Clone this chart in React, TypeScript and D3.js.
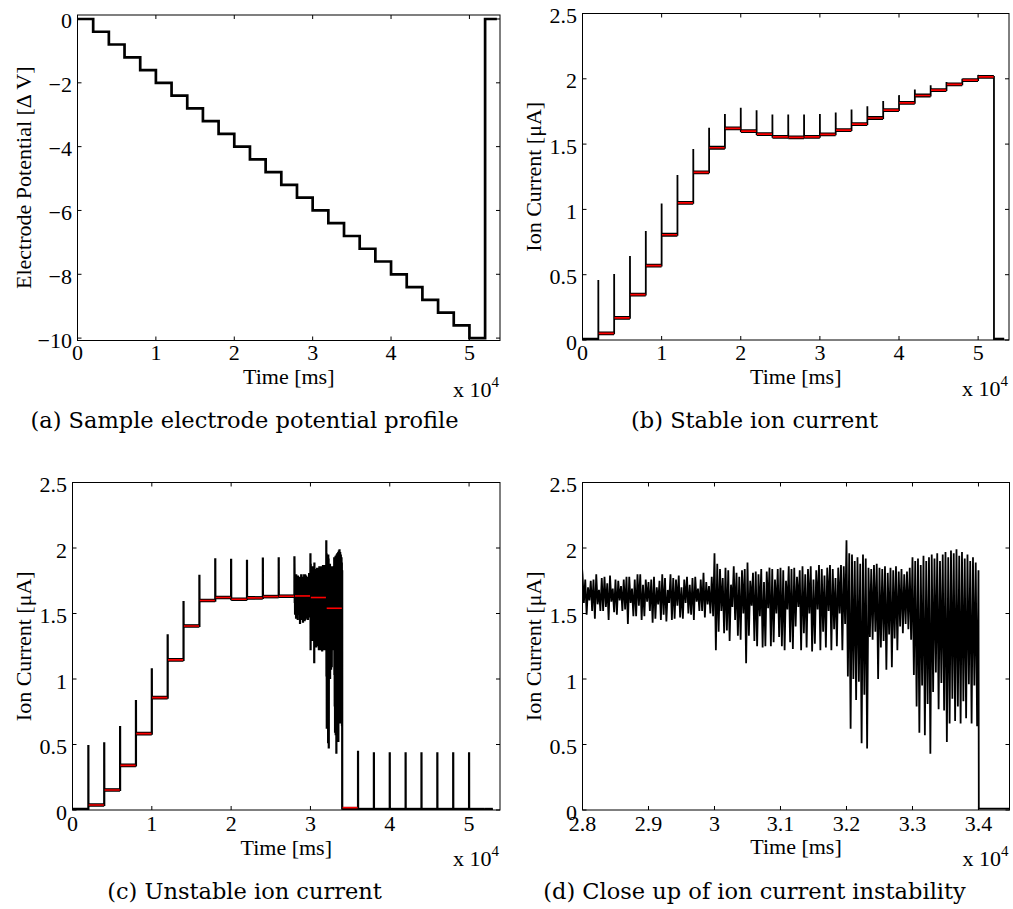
import React from "react";
import * as d3 from "d3";

// ---------- shared step schedule (ms) ----------
const STEP_TIMES = [0, 2000, 4000, 6000, 8000, 10000, 12000, 14000, 16000, 18000, 20000, 22000, 24000, 26000, 28000, 30000, 32000, 34000, 36000, 38000, 40000, 42000, 44000, 46000, 48000, 50000, 52000];

// ---------- (a) electrode potential ----------
const POTENTIAL_LEVELS = [0, -0.4, -0.8, -1.2, -1.6, -2.0, -2.4, -2.8, -3.2, -3.6, -4.0, -4.4, -4.8, -5.2, -5.6, -6.0, -6.4, -6.8, -7.2, -7.6, -8.0, -8.4, -8.8, -9.2, -9.6, -10.0, 0];
const POTENTIAL_END = 53500;

// ---------- (b) stable ion current ----------
const STABLE_LEVELS = [0.003, 0.05, 0.17, 0.347, 0.57, 0.806, 1.05, 1.283, 1.472, 1.62, 1.6, 1.577, 1.556, 1.551, 1.556, 1.574, 1.607, 1.653, 1.7, 1.76, 1.816, 1.872, 1.913, 1.957, 1.99, 2.015, 0.003];
const STABLE_SPIKES = [0, 0.46, 0.505, 0.643, 0.834, 1.046, 1.263, 1.462, 1.625, 1.73, 1.778, 1.76, 1.727, 1.727, 1.727, 1.73, 1.742, 1.765, 1.79, 1.83, 1.875, 1.918, 1.95, 1.975, 2.0, 2.03, 0];
const STABLE_END = 53300;

// ---------- (c) unstable ion current ----------
const UNSTABLE_LEVELS: (number | null)[] = [0.003, 0.038, 0.153, 0.341, 0.583, 0.858, 1.146, 1.405, 1.599, 1.622, 1.609, 1.619, 1.629, 1.632, null, null, null, 0.01, 0.003, 0.003, 0.003, 0.003, 0.003, 0.003, 0.003, 0.003, 0.003];
const UNSTABLE_MEANS: (number | null)[] = [null, 0.038, 0.153, 0.341, 0.583, 0.858, 1.146, 1.405, 1.599, 1.622, 1.609, 1.619, 1.629, 1.632, 1.634, 1.622, 1.54, 0.018, null, null, null, null, null, null, null, null, null];
const UNSTABLE_SPIKES = [0, 0.496, 0.517, 0.642, 0.84, 1.082, 1.342, 1.596, 1.795, 1.922, 1.917, 1.91, 1.927, 1.93, 1.937, 0, 0, 0, 0.453, 0.44, 0.44, 0.44, 0.44, 0.44, 0.44, 0.44, 0];
const UNSTABLE_END = 53000;

// oscillation (peak / trough per cycle) during the unstable steps 2.8–3.4 x10^4 ms
const OSC_HI_A = [1.80, 1.76, 1.70, 1.75, 1.76, 1.80, 1.68, 1.77, 1.78, 1.73, 1.79, 1.69, 1.76, 1.75, 1.71, 1.76, 1.78, 1.78, 1.69, 1.76, 1.80, 1.80, 1.72, 1.76, 1.74, 1.76, 1.78, 1.70, 1.75, 1.80, 1.77, 1.68, 1.80, 1.77, 1.76, 1.79, 1.70, 1.76, 1.78, 1.72, 1.77, 1.78, 1.69, 1.76, 1.81, 1.74, 1.71, 1.78];
const OSC_LO_A = [1.58, 1.49, 1.60, 1.52, 1.46, 1.57, 1.52, 1.52, 1.55, 1.45, 1.59, 1.51, 1.49, 1.60, 1.52, 1.53, 1.42, 1.58, 1.48, 1.48, 1.56, 1.45, 1.48, 1.59, 1.52, 1.43, 1.46, 1.57, 1.45, 1.49, 1.44, 1.58, 1.45, 1.46, 1.56, 1.47, 1.46, 1.58, 1.50, 1.49, 1.45, 1.59, 1.52, 1.52, 1.47, 1.57, 1.50, 1.48];
const OSC_HI_B = [1.96, 1.88, 1.84, 1.77, 1.85, 1.83, 1.72, 1.86, 1.81, 1.78, 1.83, 1.84, 1.89, 1.75, 1.81, 1.82, 1.80, 1.84, 1.74, 1.82, 1.85, 1.84, 1.76, 1.84, 1.85, 1.83, 1.75, 1.86, 1.84, 1.85, 1.78, 1.83, 1.86, 1.80, 1.84, 1.86, 1.76, 1.83, 1.87, 1.84, 1.79, 1.85, 1.87, 1.84, 1.77, 1.85, 1.87, 1.86];
const OSC_LO_B = [1.22, 1.36, 1.52, 1.35, 1.37, 1.29, 1.55, 1.45, 1.33, 1.30, 1.50, 1.12, 1.33, 1.56, 1.29, 1.25, 1.48, 1.24, 1.25, 1.54, 1.25, 1.28, 1.50, 1.32, 1.25, 1.22, 1.53, 1.28, 1.23, 1.40, 1.55, 1.22, 1.35, 1.24, 1.50, 1.21, 1.27, 1.53, 1.22, 1.36, 1.24, 1.52, 1.22, 1.38, 1.25, 1.50, 1.22, 1.42];
const OSC_HI_C = [2.06, 1.96, 1.95, 1.90, 1.93, 1.88, 1.95, 1.92, 1.85, 1.84, 1.87, 1.88, 1.85, 1.84, 1.86, 1.81, 1.85, 1.83, 1.86, 1.82, 1.84, 1.80, 1.82, 1.85, 1.93, 1.90, 1.92, 1.87, 1.94, 1.90, 1.93, 1.95, 1.92, 1.96, 1.90, 1.95, 1.97, 1.93, 1.98, 1.96, 1.99, 1.94, 1.97, 1.92, 1.95, 1.90, 1.93, 1.89];
const OSC_LO_C = [1.02, 0.62, 1.00, 0.84, 0.98, 0.51, 0.88, 0.47, 1.32, 1.30, 1.36, 1.00, 1.24, 1.29, 1.07, 1.34, 1.09, 1.31, 1.22, 1.40, 1.35, 1.42, 1.38, 1.30, 1.03, 0.79, 0.59, 0.95, 0.57, 0.81, 0.43, 0.90, 1.05, 0.77, 0.97, 0.76, 0.52, 0.66, 0.85, 0.68, 0.79, 0.66, 0.83, 0.70, 0.96, 0.66, 0.95, 0.64];
const OSC_END_VALUE = 1.83;

// ---------- ticks ----------
const X_TICKS_FULL = [0, 10000, 20000, 30000, 40000, 50000];
const X_TICKS_ZOOM = [28000, 29000, 30000, 31000, 32000, 33000, 34000];
const Y_TICKS_POT = [0, -2, -4, -6, -8, -10];
const Y_TICKS_CUR = [0, 0.5, 1, 1.5, 2, 2.5];

const CAPTIONS = ["(a) Sample electrode potential profile", "(b) Stable ion current", "(c) Unstable ion current", "(d) Close up of ion current instability"];

const FONT = "Liberation Serif, Times New Roman, serif";
const CAP_FONT = "DejaVu Serif, serif";

type Pt = [number, number];
type Box = { left: number; top: number; right: number; bottom: number };

function oscBlock(k: number): [number[], number[]] | null {
  if (k === 14) return [OSC_HI_A, OSC_LO_A];
  if (k === 15) return [OSC_HI_B, OSC_LO_B];
  if (k === 16) return [OSC_HI_C, OSC_LO_C];
  return null;
}

function buildStable(): Pt[] {
  const pts: Pt[] = [[STEP_TIMES[0], STABLE_LEVELS[0]]];
  for (let k = 1; k < STEP_TIMES.length; k++) {
    const t = STEP_TIMES[k];
    pts.push([t, STABLE_LEVELS[k - 1]]);
    if (STABLE_SPIKES[k] > 0) {
      pts.push([t, STABLE_SPIKES[k]]);
      pts.push([t + 8, STABLE_LEVELS[k]]);
    } else {
      pts.push([t, STABLE_LEVELS[k]]);
    }
  }
  pts.push([STABLE_END, STABLE_LEVELS[STABLE_LEVELS.length - 1]]);
  return pts;
}

function buildUnstable(): Pt[] {
  const pts: Pt[] = [[STEP_TIMES[0], UNSTABLE_LEVELS[0] as number]];
  for (let k = 1; k < STEP_TIMES.length; k++) {
    const t = STEP_TIMES[k];
    const prev = UNSTABLE_LEVELS[k - 1];
    const lvl = UNSTABLE_LEVELS[k];
    const block = oscBlock(k);
    if (block) {
      if (prev !== null) {
        pts.push([t - 20, prev]);
        pts.push([t - 20, UNSTABLE_SPIKES[k]]);
      }
      const [hi, lo] = block;
      const P = (STEP_TIMES[k + 1] - t) / hi.length;
      hi.forEach((h, i) => {
        pts.push([t + i * P, h]);
        pts.push([t + i * P + P / 2, lo[i]]);
      });
    } else if (lvl !== null) {
      if (prev === null) {
        pts.push([t, OSC_END_VALUE]);
        pts.push([t + 5, lvl]);
      } else {
        pts.push([t, prev]);
        if (UNSTABLE_SPIKES[k] > 0) {
          pts.push([t, UNSTABLE_SPIKES[k]]);
          pts.push([t + 8, lvl]);
        } else pts.push([t, lvl]);
      }
    }
  }
  pts.push([UNSTABLE_END, UNSTABLE_LEVELS[UNSTABLE_LEVELS.length - 1] as number]);
  return pts;
}

function segments(levels: (number | null)[], end: number, gap: number): { t0: number; t1: number; v: number }[] {
  const out: { t0: number; t1: number; v: number }[] = [];
  levels.forEach((v, k) => {
    if (v === null) return;
    const t0 = STEP_TIMES[k] + gap;
    const t1 = (k + 1 < STEP_TIMES.length ? STEP_TIMES[k + 1] : end) - gap;
    out.push({ t0, t1, v });
  });
  return out;
}

type PanelProps = {
  id: string;
  box: Box;
  xDomain: [number, number];
  yDomain: [number, number];
  xTicks: number[];
  yTicks: number[];
  yFmt: (v: number) => string;
  yLabel: string;
  yLabelGap: number;
  xTickGap: number;
  xLabelGap: number;
  render: (x: d3.ScaleLinear<number, number>, y: d3.ScaleLinear<number, number>) => React.ReactNode;
};

function Panel(p: PanelProps) {
  const { box } = p;
  const x = d3.scaleLinear().domain(p.xDomain).range([box.left, box.right]);
  const y = d3.scaleLinear().domain(p.yDomain).range([box.bottom, box.top]);
  const T = 4;
  const cx = (box.left + box.right) / 2;
  const cy = (box.top + box.bottom) / 2;
  const xFmt = (v: number) => String(+(v / 1e4).toFixed(1));
  return (
    <g>
      <defs>
        <clipPath id={p.id}>
          <rect x={box.left} y={box.top} width={box.right - box.left} height={box.bottom - box.top} />
        </clipPath>
      </defs>
      <g clipPath={`url(#${p.id})`}>{p.render(x, y)}</g>
      <rect x={box.left} y={box.top} width={box.right - box.left} height={box.bottom - box.top} fill="none" stroke="#000" strokeWidth={1} />
      <g stroke="#000" strokeWidth={1}>
        {p.xTicks.map((v) => (
          <g key={"xt" + v}>
            <line x1={x(v)} x2={x(v)} y1={box.bottom} y2={box.bottom - T} />
            <line x1={x(v)} x2={x(v)} y1={box.top} y2={box.top + T} />
          </g>
        ))}
        {p.yTicks.map((v) => (
          <g key={"yt" + v}>
            <line x1={box.left} x2={box.left + T} y1={y(v)} y2={y(v)} />
            <line x1={box.right} x2={box.right - T} y1={y(v)} y2={y(v)} />
          </g>
        ))}
      </g>
      <g fontFamily={FONT} fontSize={22} fill="#000">
        {p.xTicks.map((v) => (
          <text key={"xl" + v} x={x(v)} y={box.bottom + p.xTickGap} textAnchor="middle">
            {xFmt(v)}
          </text>
        ))}
        {p.yTicks.map((v) => (
          <text key={"yl" + v} x={box.left - 5.5} y={y(v) + 2} textAnchor="end" dominantBaseline="central">
            {p.yFmt(v)}
          </text>
        ))}
        <text x={cx} y={box.bottom + p.xLabelGap} textAnchor="middle">Time [ms]</text>
        <text x={box.right - 1} y={box.bottom + 56} textAnchor="end">
          x 10<tspan fontSize={15} dy={-10}>4</tspan>
        </text>
        <text transform={`translate(${box.left - p.yLabelGap},${cy}) rotate(-90)`} textAnchor="middle">
          {p.yLabel}
        </text>
      </g>
    </g>
  );
}

const BOX_A: Box = { left: 77.5, top: 15, right: 500, bottom: 340.5 };
const BOX_B: Box = { left: 582.5, top: 13.5, right: 1009, bottom: 340 };
const BOX_C: Box = { left: 72.5, top: 482.5, right: 500, bottom: 810 };
const BOX_D: Box = { left: 582.5, top: 482.5, right: 1009.5, bottom: 810 };

export default function App() {
  const potPts: Pt[] = STEP_TIMES.map((t, k) => [t, POTENTIAL_LEVELS[k]] as Pt).concat([[POTENTIAL_END, POTENTIAL_LEVELS[POTENTIAL_LEVELS.length - 1]]]);
  const stablePts = buildStable();
  const unstablePts = buildUnstable();
  const stableBands = segments(STABLE_LEVELS, STABLE_END, 10);
  const stableMeans = segments(STABLE_LEVELS.map((v, k) => (k === 0 || k === STABLE_LEVELS.length - 1 ? null : v)), STABLE_END, 50);
  const unstableBands = segments(UNSTABLE_LEVELS, UNSTABLE_END, 10);
  const unstableMeans = segments(UNSTABLE_MEANS, UNSTABLE_END, 50);

  const curFmt = (v: number) => String(v);
  const potFmt = (v: number) => (v === 0 ? "0" : "\u2212" + Math.abs(v));

  const lineGen = (x: d3.ScaleLinear<number, number>, y: d3.ScaleLinear<number, number>, curve?: d3.CurveFactory) => {
    const g = d3.line<Pt>().x((d) => x(d[0])).y((d) => y(d[1]));
    if (curve) g.curve(curve);
    return g;
  };

  return (
    <svg width={1013} height={909} style={{ position: "absolute", left: 0, top: 0, background: "#fff" }}>
      <rect width={1013} height={909} fill="#fff" />
      <Panel
        id="clipA"
        box={BOX_A}
        xDomain={[0, 53900]}
        yDomain={[-10.075, 0.125]}
        xTicks={X_TICKS_FULL}
        yTicks={Y_TICKS_POT}
        yFmt={potFmt}
        yLabel={"Electrode Potential [\u0394 V]"}
        yLabelGap={47}
        xTickGap={19}
        xLabelGap={43}
        render={(x, y) => (
          <path d={lineGen(x, y, d3.curveStepAfter)(potPts) || ""} fill="none" stroke="#000" strokeWidth={2.7} />
        )}
      />
      <Panel
        id="clipB"
        box={BOX_B}
        xDomain={[0, 53900]}
        yDomain={[0, 2.5]}
        xTicks={X_TICKS_FULL}
        yTicks={Y_TICKS_CUR}
        yFmt={curFmt}
        yLabel={"Ion Current [\u03bcA]"}
        yLabelGap={42}
        xTickGap={20}
        xLabelGap={43.5}
        render={(x, y) => (
          <g>
            <path d={lineGen(x, y)(stablePts) || ""} fill="none" stroke="#000" strokeWidth={1.8} />
            {stableBands.map((s, i) => (
              <line key={"b" + i} x1={x(s.t0)} x2={x(s.t1)} y1={y(s.v)} y2={y(s.v)} stroke="#000" strokeWidth={3.8} />
            ))}
            {stableMeans.map((s, i) => (
              <line key={"m" + i} x1={x(s.t0)} x2={x(s.t1)} y1={y(s.v)} y2={y(s.v)} stroke="#f00" strokeWidth={1.7} />
            ))}
          </g>
        )}
      />
      <Panel
        id="clipC"
        box={BOX_C}
        xDomain={[0, 53900]}
        yDomain={[0, 2.5]}
        xTicks={X_TICKS_FULL}
        yTicks={Y_TICKS_CUR}
        yFmt={curFmt}
        yLabel={"Ion Current [\u03bcA]"}
        yLabelGap={41.5}
        xTickGap={21}
        xLabelGap={45}
        render={(x, y) => (
          <g>
            <path d={lineGen(x, y)(unstablePts) || ""} fill="none" stroke="#000" strokeWidth={2.2} />
            {unstableBands.map((s, i) => (
              <line key={"b" + i} x1={x(s.t0)} x2={x(s.t1)} y1={y(s.v)} y2={y(s.v)} stroke="#000" strokeWidth={3.6} />
            ))}
            {unstableMeans.map((s, i) => (
              <line key={"m" + i} x1={x(s.t0)} x2={x(s.t1)} y1={y(s.v)} y2={y(s.v)} stroke="#f00" strokeWidth={1.6} />
            ))}
          </g>
        )}
      />
      <Panel
        id="clipD"
        box={BOX_D}
        xDomain={[28000, 34470]}
        yDomain={[0, 2.5]}
        xTicks={X_TICKS_ZOOM}
        yTicks={Y_TICKS_CUR}
        yFmt={curFmt}
        yLabel={"Ion Current [\u03bcA]"}
        yLabelGap={42}
        xTickGap={21}
        xLabelGap={44}
        render={(x, y) => (
          <path d={lineGen(x, y)(unstablePts) || ""} fill="none" stroke="#000" strokeWidth={1.8} />
        )}
      />
      <g fontFamily={CAP_FONT} fontSize={22.5} fill="#000" textAnchor="middle">
        <text x={244.5} y={428}>{CAPTIONS[0]}</text>
        <text x={754.5} y={428}>{CAPTIONS[1]}</text>
        <text x={244.5} y={899}>{CAPTIONS[2]}</text>
        <text x={754.5} y={899}>{CAPTIONS[3]}</text>
      </g>
    </svg>
  );
}
